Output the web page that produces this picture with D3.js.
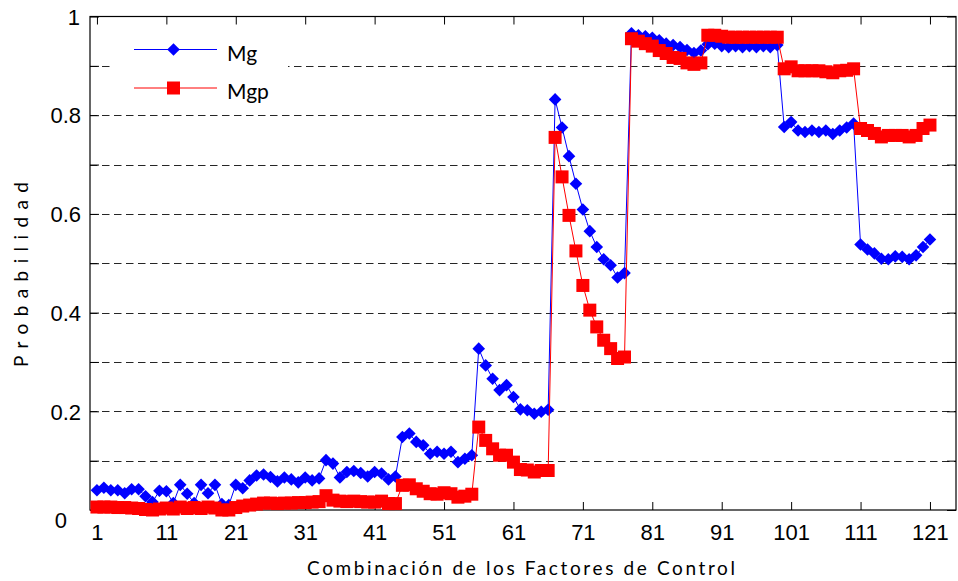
<!DOCTYPE html>
<html><head><meta charset="utf-8">
<script src="https://cdn.jsdelivr.net/npm/d3@7"></script>
<style>
body{margin:0;background:#fff;}
svg{display:block;}
</style></head>
<body>
<svg id="c" width="958" height="581"></svg>
<script>
const categories = d3.range(1, 122);
const mg = [
 0.040,0.045,0.040,0.040,0.034,0.042,0.042,0.028,0.016,0.039,
 0.038,0.014,0.051,0.033,0.014,0.051,0.034,0.051,0.012,0.010,
 0.051,0.044,0.060,0.070,0.072,0.067,0.058,0.066,0.062,0.056,
 0.066,0.060,0.064,0.101,0.094,0.066,0.077,0.079,0.075,0.068,
 0.077,0.074,0.062,0.068,
 0.148,0.155,0.138,0.131,0.114,0.118,0.114,0.118,0.097,0.104,
 0.111,0.327,0.293,0.266,0.243,0.253,0.229,0.204,0.202,0.195,
 0.199,0.203,
 0.832,0.775,0.717,0.661,0.609,0.565,0.533,0.508,0.496,0.471,0.480,
 0.966,0.962,0.960,0.957,0.952,0.945,0.942,0.938,0.932,0.926,
 0.931,0.944,0.945,0.940,0.938,0.940,0.938,0.940,0.938,0.940,
 0.938,0.942,
 0.776,0.786,0.769,0.766,0.769,0.766,0.769,0.762,0.769,0.775,0.783,
 0.538,0.528,0.520,0.509,0.508,0.514,0.513,0.508,0.516,0.533,0.548
];
const mgp = [
 0.006,0.006,0.006,0.005,0.005,0.004,0.003,0.001,0.000,0.002,
 0.004,0.002,0.006,0.003,0.005,0.003,0.006,0.004,0.000,0.000,
 0.005,0.008,0.010,0.012,0.014,0.014,0.013,0.014,0.014,0.015,
 0.015,0.016,0.017,0.029,0.020,0.018,0.017,0.018,0.017,0.016,
 0.016,0.018,0.013,0.013,
 0.050,0.051,0.043,0.038,0.033,0.032,0.035,0.033,0.026,0.028,
 0.032,0.168,0.141,0.124,0.111,0.111,0.097,0.082,0.081,0.077,
 0.080,0.080,
 0.755,0.675,0.597,0.525,0.455,0.405,0.371,0.344,0.327,0.307,0.310,
 0.955,0.950,0.945,0.940,0.931,0.925,0.917,0.915,0.906,0.903,
 0.906,0.962,0.962,0.960,0.958,0.958,0.958,0.958,0.958,0.958,
 0.958,0.958,
 0.894,0.898,0.890,0.890,0.890,0.890,0.888,0.886,0.890,0.891,0.894,
 0.773,0.769,0.763,0.756,0.759,0.759,0.759,0.756,0.759,0.773,0.780
];
const xTicks = d3.range(1, 122, 10);
const yTicks = d3.range(0, 11).map(d => d / 10);
const yLabelTicks = [0, 0.2, 0.4, 0.6, 0.8, 1];
const seriesNames = ["Mg", "Mgp"];
const xTitle = "Combinación de los Factores de Control";
const yTitle = "Probabilidad";

const svg = d3.select("#c");
const L = 90, R = 956, T = 16.5, B = 510;
const x = d3.scaleLinear().domain([0, 124.75]).range([L, R]);
const y = d3.scaleLinear().domain([0, 1]).range([B, T]);

// gridlines (dashed) at 0.1 .. 0.9
svg.append("g").selectAll("line").data(yTicks.filter(d => d > 0 && d < 1)).join("line")
  .attr("x1", L).attr("x2", R).attr("y1", d => Math.round(y(d)) + 0.5).attr("y2", d => Math.round(y(d)) + 0.5)
  .attr("stroke", "#262626").attr("stroke-width", 1).attr("stroke-dasharray", "7.5,4.5");

// legend background
svg.append("rect").attr("x", 110).attr("y", 24).attr("width", 178).attr("height", 84).attr("fill", "#fff");

// axes
const fontTick = "'Liberation Sans', Arial, sans-serif";
const gx = svg.append("g").attr("transform", `translate(0,${B})`)
  .call(d3.axisBottom(x).tickValues(xTicks).tickSize(-8).tickPadding(14).tickFormat(d3.format("d")));
const gxt = svg.append("g").attr("transform", `translate(0,${T})`)
  .call(d3.axisTop(x).tickValues(xTicks).tickSize(-8).tickFormat(""));
const gy = svg.append("g").attr("transform", `translate(${L},0)`)
  .call(d3.axisLeft(y).tickValues(yTicks).tickSize(-9).tickPadding(9)
    .tickFormat(d => yLabelTicks.some(v => Math.abs(v - d) < 1e-9) ? d3.format("")(+d.toFixed(1)) : ""));
const gyr = svg.append("g").attr("transform", `translate(${R},0)`)
  .call(d3.axisRight(y).tickValues(yTicks).tickSize(-9).tickFormat(""));
[gx, gxt, gy, gyr].forEach(g => {
  g.select(".domain").remove();
  g.selectAll(".tick line").attr("stroke", "#000");
  g.selectAll("text").attr("font-family", fontTick).attr("font-size", 22).attr("fill", "#000");
});
gx.selectAll(".tick text").attr("dy", "0.71em");
gy.selectAll(".tick text").attr("dy", d => d === 0 ? "0.8em" : "0.35em")
  .attr("dx", d => d === 0 ? -14 : (d === 1 ? -1 : 0));

// box
svg.append("rect").attr("x", L).attr("y", T).attr("width", R - L).attr("height", B - T)
  .attr("fill", "none").attr("stroke", "#000").attr("stroke-width", 1.2);

// series
const diamond = "M0,-6.3L6.3,0L0,6.3L-6.3,0Z";
const square = "M-6.5,-6.5H6.5V6.5H-6.5Z";
const series = [
  {name: seriesNames[0], vals: mg, color: "#0000ff", path: diamond},
  {name: seriesNames[1], vals: mgp, color: "#ff0000", path: square}
];
const line = d3.line().x((d, i) => x(categories[i])).y(d => y(d));
series.forEach(s => {
  svg.append("path").datum(s.vals).attr("d", line).attr("fill", "none")
    .attr("stroke", s.color).attr("stroke-width", 1);
  svg.append("g").selectAll("path").data(s.vals).join("path")
    .attr("d", s.path).attr("fill", s.color)
    .attr("transform", (d, i) => `translate(${x(categories[i])},${y(d)})`);
});

// legend
const legY = [49.5, 88];
series.forEach((s, i) => {
  const g = svg.append("g");
  g.append("line").attr("x1", 134).attr("x2", 217).attr("y1", legY[i]).attr("y2", legY[i])
    .attr("stroke", s.color).attr("stroke-width", 1);
  g.append("path").attr("d", s.path).attr("fill", s.color).attr("transform", `translate(173.5,${legY[i]})`);
  g.append("text").attr("x", 227).attr("y", legY[i] + 11).text(s.name)
    .attr("font-family", "Lato, 'Open Sans', sans-serif").attr("font-size", 21).attr("fill", "#000");
});

// axis titles
svg.append("text").attr("x", 307).attr("y", 575).text(xTitle)
  .attr("font-family", "Lato, 'Open Sans', sans-serif").attr("font-size", 19).attr("fill", "#000")
  .attr("textLength", 428).attr("lengthAdjust", "spacing");
svg.append("text").attr("transform", "translate(28,367) rotate(-90)").text(yTitle)
  .attr("font-family", "Lato, 'Open Sans', sans-serif").attr("font-size", 19).attr("fill", "#000")
  .attr("textLength", 185).attr("lengthAdjust", "spacing");
</script>
</body></html>
